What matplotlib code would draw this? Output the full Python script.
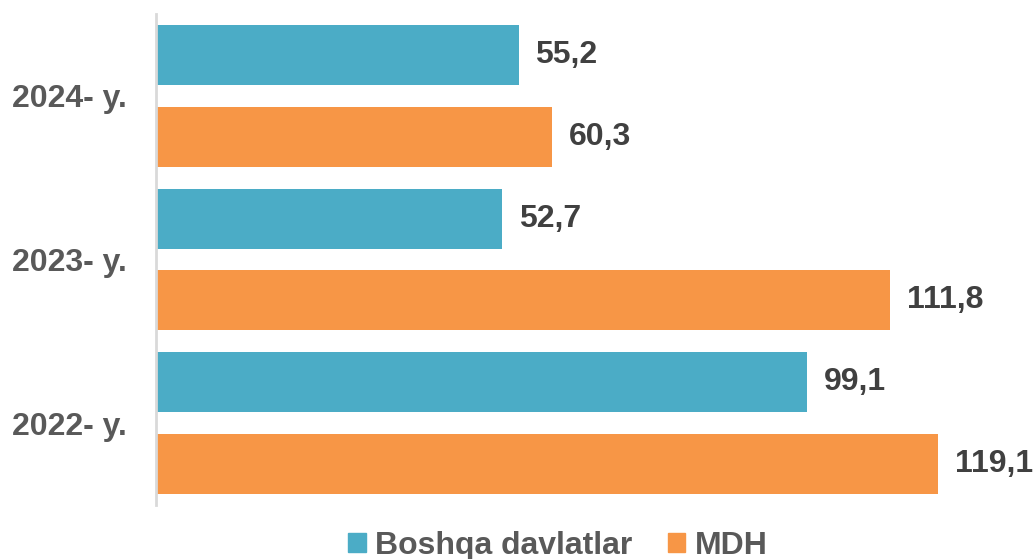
import numpy as np
import matplotlib.pyplot as plt
from matplotlib.patches import Patch

plt.rcParams['font.family'] = ['Liberation Sans', 'DejaVu Sans']

# Data
years = ["2022- y.", "2023- y.", "2024- y."]
boshqa = [99.1, 52.7, 55.2]
mdh = [119.1, 111.8, 60.3]
series_names = ["Boshqa davlatlar", "MDH"]

teal = "#4BACC6"
orange = "#F79646"
fs = 23

fig = plt.figure(figsize=(10.33, 5.59), dpi=100)
ax = fig.add_axes([156 / 1033, 54 / 559, 854 / 1033, 491 / 559])

y = np.arange(len(years))
h = 0.366
ax.barh(y + 0.25, boshqa, height=h, color=teal)
ax.barh(y - 0.25, mdh, height=h, color=orange)

# Value labels
for yi, v in zip(y + 0.25, boshqa):
    ax.text(v + 2.5, yi, f"{v:.1f}".replace(".", ","), va="center", ha="left",
            fontsize=fs, fontweight="bold", color="#404040", clip_on=False)
for yi, v in zip(y - 0.25, mdh):
    ax.text(v + 2.5, yi, f"{v:.1f}".replace(".", ","), va="center", ha="left",
            fontsize=fs, fontweight="bold", color="#404040", clip_on=False)

ax.set_xlim(0, 130)
ax.set_ylim(-0.5, 2.5)
ax.set_yticks(y)
ax.set_yticklabels(years, fontsize=fs, fontweight="bold", color="#595959")
ax.tick_params(axis="y", length=0, pad=21)
ax.set_xticks([])

for s in ["top", "right", "bottom"]:
    ax.spines[s].set_visible(False)
ax.spines["left"].set_color("#D9D9D9")
ax.spines["left"].set_linewidth(2)

handles = [Patch(color=teal), Patch(color=orange)]
leg = fig.legend(handles, series_names, loc="center", bbox_to_anchor=(0.54, 0.024),
                 ncol=2, frameon=False, fontsize=fs, handlelength=0.55, handleheight=0.55,
                 handletextpad=0.3, columnspacing=1.1, borderpad=0)
for t in leg.get_texts():
    t.set_color("#595959")
    t.set_fontweight("bold")

fig.savefig("out.png", dpi=100)
